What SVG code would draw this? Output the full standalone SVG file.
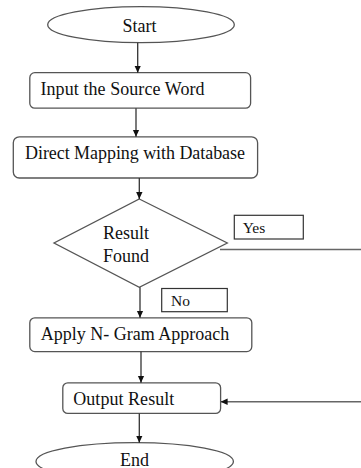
<svg xmlns="http://www.w3.org/2000/svg" width="361" height="468" viewBox="0 0 361 468">
<defs>
<marker id="arr" markerWidth="8" markerHeight="8" refX="7" refY="4" orient="auto" markerUnits="userSpaceOnUse">
<path d="M0,0.8 L7,4 L0,7.2 Z" fill="#111"/>
</marker>
<style>
.shape{fill:#fff;stroke:#555;stroke-width:1.3}
.lbl{fill:#fff;stroke:#333;stroke-width:1.2}
.t{font-family:"Liberation Serif","Times New Roman",serif;font-size:18px;fill:#111}
.s{font-size:15.5px}
.c{fill:none;stroke:#333;stroke-width:1.3}
.cg{fill:none;stroke:#666;stroke-width:1.5}
</style>
</defs>
<rect width="361" height="468" fill="#fff"/>
<g id="start">
<ellipse class="shape" cx="141" cy="24.7" rx="93.3" ry="18"/>
<text class="t" x="122.5" y="31.5">Start</text>
</g>
<g id="input">
<rect class="shape" x="29.8" y="72.7" width="220.8" height="35.5" rx="5"/>
<text class="t" x="40.5" y="95" textLength="164" lengthAdjust="spacing">Input the Source Word</text>
</g>
<g id="mapping">
<rect class="shape" x="13.3" y="136.8" width="244.3" height="41.2" rx="6"/>
<text class="t" x="25" y="159.3" textLength="220" lengthAdjust="spacing">Direct Mapping with Database</text>
</g>
<g id="decision">
<polygon class="shape" points="139.3,199 227.3,243 139.3,287.3 54,243"/>
<text class="t" x="103" y="239">Result</text>
<text class="t" x="103" y="261.5">Found</text>
</g>
<g id="yes">
<rect class="lbl" x="234.3" y="215.3" width="69" height="23.7"/>
<text class="t s" x="242.7" y="233.3">Yes</text>
</g>
<g id="no">
<rect class="lbl" x="161.7" y="288.5" width="65.6" height="23.2"/>
<text class="t s" x="171" y="305.5">No</text>
</g>
<g id="apply">
<rect class="shape" x="29.8" y="317.8" width="222" height="33.8" rx="5"/>
<text class="t" x="40.7" y="340" textLength="188.5" lengthAdjust="spacing">Apply N- Gram Approach</text>
</g>
<g id="output">
<rect class="shape" x="62.8" y="382.8" width="157.8" height="30.6" rx="5"/>
<text class="t" x="73.3" y="405" textLength="101" lengthAdjust="spacing">Output Result</text>
</g>
<g id="end">
<ellipse class="shape" cx="134.7" cy="461.5" rx="98.7" ry="18.8"/>
<text class="t" x="120" y="465.5">End</text>
</g>
<g id="connectors">
<line class="c" x1="137.7" y1="42.7" x2="137.7" y2="72.7" marker-end="url(#arr)"/>
<line class="c" x1="136" y1="108.2" x2="136" y2="136.8" marker-end="url(#arr)"/>
<line class="c" x1="139.3" y1="178" x2="139.3" y2="199" marker-end="url(#arr)"/>
<line class="c" x1="140" y1="287.3" x2="140" y2="317.8" marker-end="url(#arr)"/>
<line class="c" x1="141" y1="351.6" x2="141" y2="382.8" marker-end="url(#arr)"/>
<line class="c" x1="139.3" y1="413.4" x2="139.3" y2="442.7" marker-end="url(#arr)"/>
<line class="cg" x1="220" y1="249.5" x2="361" y2="249.5"/>
<line class="cg" x1="361" y1="401.7" x2="220.6" y2="401.7" marker-end="url(#arr)"/>
</g>
</svg>
